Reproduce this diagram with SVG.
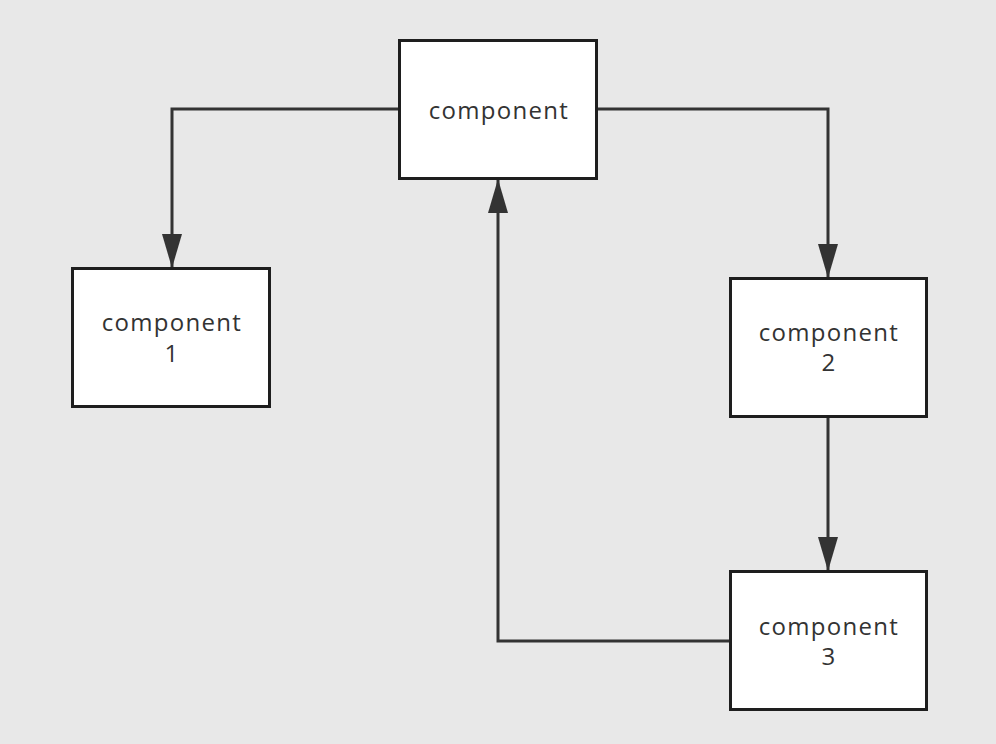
<svg xmlns="http://www.w3.org/2000/svg" width="996" height="744" viewBox="0 0 996 744">
<style>
.box{fill:#ffffff;stroke:#1e1e1e;stroke-width:3}
.lbl{font-family:"Open Sans","Noto Sans",sans-serif;font-size:24px;letter-spacing:1.3px;fill:#333333;text-anchor:middle}
.edge{fill:none;stroke:#333333;stroke-width:3}
</style>
<defs>
<marker id="ah" viewBox="0 0 34 20" refX="33" refY="10" markerWidth="34" markerHeight="20" markerUnits="userSpaceOnUse" orient="auto">
<path d="M0,0 L34,10 L0,20 Z" fill="#333333"/>
</marker>
</defs>
<rect width="996" height="744" fill="#e8e8e8"/>
<g id="connectors">
<path class="edge" d="M399,109 H172 V267" marker-end="url(#ah)"/>
<path class="edge" d="M597,109 H828 V277" marker-end="url(#ah)"/>
<path class="edge" d="M828,416 V570" marker-end="url(#ah)"/>
<path class="edge" d="M730,641 H498 V180" marker-end="url(#ah)"/>
</g>
<g id="node-top">
<rect class="box" x="399.5" y="40.5" width="197" height="138"/>
<text class="lbl" x="499" y="119">component</text>
</g>
<g id="node-1">
<rect class="box" x="72.5" y="268.5" width="197" height="138"/>
<text class="lbl" x="172" y="331">component</text>
<text class="lbl" x="172" y="362">1</text>
</g>
<g id="node-2">
<rect class="box" x="730.5" y="278.5" width="196" height="138"/>
<text class="lbl" x="829" y="341">component</text>
<text class="lbl" x="829" y="371">2</text>
</g>
<g id="node-3">
<rect class="box" x="730.5" y="571.5" width="196" height="138"/>
<text class="lbl" x="829" y="635">component</text>
<text class="lbl" x="829" y="665">3</text>
</g>
</svg>
